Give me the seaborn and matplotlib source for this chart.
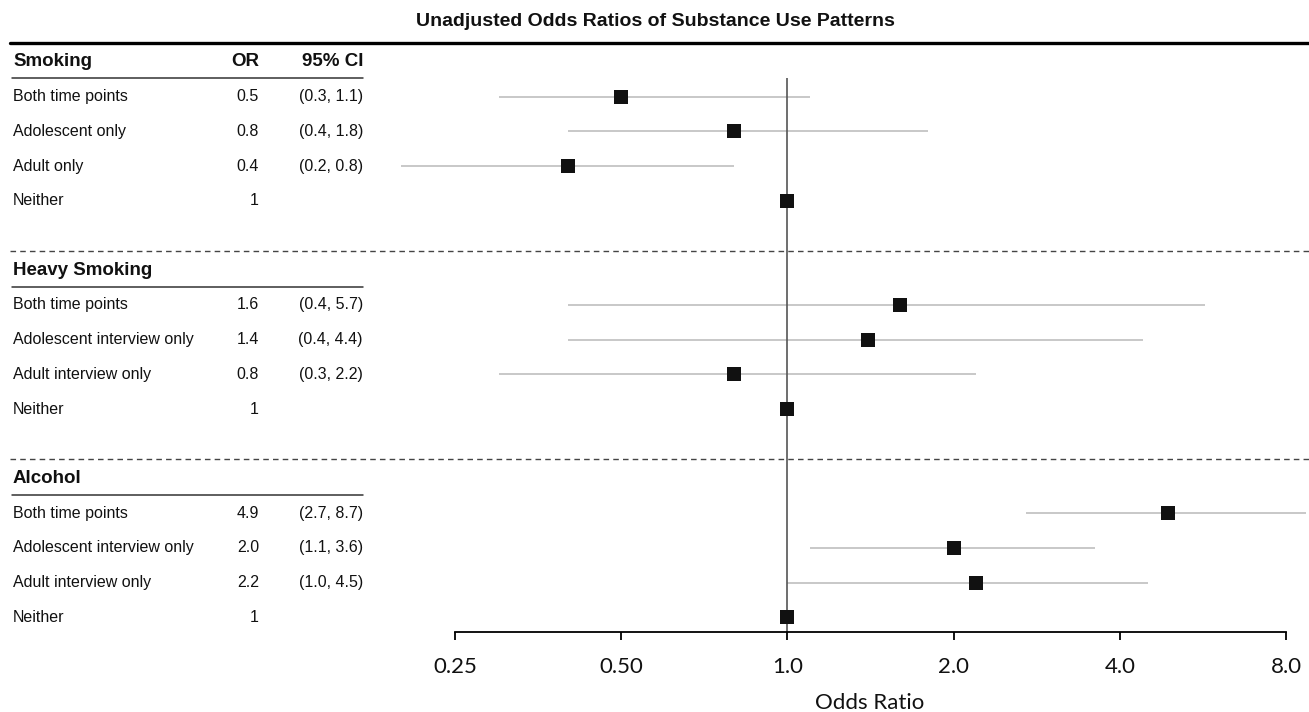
import matplotlib
matplotlib.use('Agg')
import matplotlib.pyplot as plt
import matplotlib.transforms as mtransforms
import seaborn as sns
import numpy as np
import pandas as pd

# data
groups = ["Smoking", "Heavy Smoking", "Alcohol"]
group_labels = [
    ["Both time points", "Adolescent only", "Adult only", "Neither"],
    ["Both time points", "Adolescent interview only", "Adult interview only", "Neither"],
    ["Both time points", "Adolescent interview only", "Adult interview only", "Neither"],
]
odds = [[0.5, 0.8, 0.4, 1.0], [1.6, 1.4, 0.8, 1.0], [4.9, 2.0, 2.2, 1.0]]
odds_text = [["0.5", "0.8", "0.4", "1"], ["1.6", "1.4", "0.8", "1"], ["4.9", "2.0", "2.2", "1"]]
ci_low = [[0.3, 0.4, 0.2, None], [0.4, 0.4, 0.3, None], [2.7, 1.1, 1.0, None]]
ci_high = [[1.1, 1.8, 0.8, None], [5.7, 4.4, 2.2, None], [8.7, 3.6, 4.5, None]]
xticks = [0.25, 0.5, 1.0, 2.0, 4.0, 8.0]
xtick_labels = ["0.25", "0.50", "1.0", "2.0", "4.0", "8.0"]

rows = []
for g, grp in enumerate(groups):
    for k in range(4):
        rows.append({
            "group": grp, "label": group_labels[g][k], "row": g * 6 + 1 + k,
            "OR": odds[g][k], "or_text": odds_text[g][k],
            "lo": ci_low[g][k], "hi": ci_high[g][k],
        })
df = pd.DataFrame(rows)

sns.set_theme(style="white")
SANS = ['Liberation Sans', 'DejaVu Sans']
AXF = ['Lato', 'DejaVu Sans']
plt.rcParams['font.family'] = SANS
plt.rcParams['text.color'] = '#111111'

W, H = 1309, 712
fig = plt.figure(figsize=(W / 100, H / 100), dpi=100)
axis_y = 632
ax = fig.add_axes([0, (H - axis_y) / H, 1, axis_y / H])

# pixel geometry -> data limits
px_per_oct = 166.2
x0_px = 455
ax.set_xscale('log', base=2)
ax.set_xlim(0.25 * 2 ** (-x0_px / px_per_oct), 8 * 2 ** ((W - 1286) / px_per_oct))
row0_px, row_h = 62, 34.7
ax.set_ylim((axis_y - row0_px) / row_h, -row0_px / row_h)

for s in ['top', 'left', 'right']:
    ax.spines[s].set_visible(False)
ax.spines['bottom'].set_bounds(0.25, 8)
ax.spines['bottom'].set_color('black')
ax.spines['bottom'].set_linewidth(1.3)
ax.set_yticks([])
ax.set_xticks(xticks)
ax.set_xticklabels(xtick_labels, family=AXF, fontsize=16, color='#111111')
ax.minorticks_off()
ax.tick_params(axis='x', direction='out', length=6, width=1.3, color='black',
               pad=12, bottom=True)
ax.set_xlabel("Odds Ratio", fontsize=16, family=AXF, color='#111111')
ax.xaxis.set_label_coords(870 / W, -0.097)

# reference line at OR = 1
ax.vlines(1.0, 0.47, (axis_y - row0_px) / row_h, color='#555555', lw=1.2, zorder=2)

# confidence intervals
ci = df.dropna(subset=['lo'])
ax.hlines(ci['row'], ci['lo'], ci['hi'], color='#c4c4c4', lw=1.3, zorder=1)
sns.scatterplot(data=df, x='OR', y='row', marker='s', s=110, color='#111111',
                edgecolor='#111111', linewidth=0, zorder=3, ax=ax, legend=False)
ax.set_ylabel("")

# table on the left, in pixel x / data y
trans = mtransforms.blended_transform_factory(
    mtransforms.Affine2D().scale(1 / W) + ax.transAxes, ax.transData)
fs = 11.5
hfs = 13.5
for g, grp in enumerate(groups):
    hr = g * 6
    ax.text(13, hr, grp, transform=trans, fontsize=hfs, fontweight='bold',
            va='center', ha='left', family=SANS)
    if g == 0:
        ax.text(259, hr, "OR", transform=trans, fontsize=hfs, fontweight='bold',
                va='center', ha='right', family=SANS)
        ax.text(363, hr, "95% CI", transform=trans, fontsize=hfs, fontweight='bold',
                va='center', ha='right', family=SANS)
    ax.plot([12, 363], [hr + 0.47, hr + 0.47], transform=trans, color='#333333', lw=1.1, clip_on=False)
    if g > 0:
        ax.plot([10, W], [hr - 0.55, hr - 0.55], transform=trans, color='#444444', lw=1.0,
                ls=(0, (4, 3)), clip_on=False)

for _, r in df.iterrows():
    ax.text(13, r['row'], r['label'], transform=trans, fontsize=fs, va='center', ha='left', family=SANS)
    ax.text(259, r['row'], r['or_text'], transform=trans, fontsize=fs, va='center', ha='right', family=SANS)
    if pd.notna(r['lo']):
        ax.text(363, r['row'], f"({r['lo']:.1f}, {r['hi']:.1f})", transform=trans,
                fontsize=fs, va='center', ha='right', family=SANS)

# thick rule and title
ax.plot([10, W], [-0.55, -0.55], transform=trans, color='black', lw=2.4, clip_on=False)
fig.text(655 / W, 1 - 22 / H, "Unadjusted Odds Ratios of Substance Use Patterns",
         ha='center', va='center', fontsize=14, fontweight='bold', family=SANS)

fig.savefig('out.png', dpi=100, facecolor='white')
